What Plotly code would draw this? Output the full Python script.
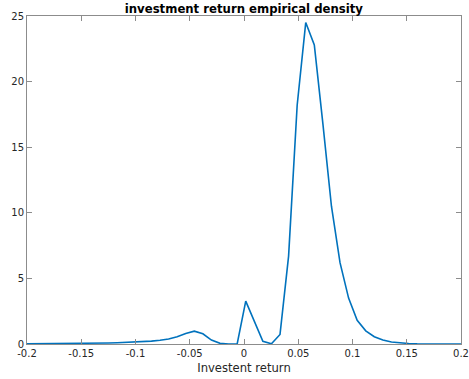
import plotly.graph_objects as go

x_ret = [-0.2038, -0.1959, -0.1880, -0.1801, -0.1722, -0.1643, -0.1564, -0.1485,
         -0.1406, -0.1327, -0.1248, -0.1169, -0.1090, -0.1011, -0.0932, -0.0853,
         -0.0774, -0.0695, -0.0616, -0.0537, -0.0458, -0.0379, -0.0300, -0.0221,
         -0.0142, -0.0063, 0.0016, 0.0095, 0.0174, 0.0253, 0.0332, 0.0411,
         0.0490, 0.0569, 0.0648, 0.0727, 0.0806, 0.0885, 0.0964, 0.1043,
         0.1122, 0.1201, 0.1280, 0.1359, 0.1438, 0.1517, 0.1596, 0.1675,
         0.1754, 0.1833, 0.1912, 0.1991, 0.2070]
density = [0.01, 0.012, 0.015, 0.02, 0.025, 0.03, 0.04, 0.05,
           0.06, 0.07, 0.08, 0.10, 0.12, 0.15, 0.18, 0.22,
           0.28, 0.38, 0.55, 0.80, 0.98, 0.78, 0.30, 0.05,
           0.0, 0.0, 3.27, 1.75, 0.20, 0.02, 0.73, 6.7,
           18.2, 24.5, 22.8, 16.8, 10.5, 6.2, 3.5, 1.8,
           1.0, 0.55, 0.3, 0.15, 0.08, 0.04, 0.02, 0.01,
           0.008, 0.006, 0.005, 0.004, 0.003]

x_ticks = [-0.2, -0.15, -0.1, -0.05, 0, 0.05, 0.1, 0.15, 0.2]
x_tick_labels = ["-0.2", "-0.15", "-0.1", "-0.05", "0", "0.05", "0.1", "0.15", "0.2"]
y_ticks = [0, 5, 10, 15, 20, 25]

fig = go.Figure()
fig.add_trace(go.Scatter(x=x_ret, y=density, mode="lines",
                         line=dict(color="#0072BD", width=1.6),
                         showlegend=False, cliponaxis=True))

axis_common = dict(showgrid=False, zeroline=False, showline=True, linecolor="#8c8c8c",
                   linewidth=1, mirror="ticks", ticks="inside", ticklen=5,
                   tickcolor="#8c8c8c", tickwidth=1, automargin=False,
                   tickfont=dict(family="DejaVu Sans", size=10, color="#262626"))

fig.update_xaxes(range=[-0.2, 0.2], tickvals=x_ticks, ticktext=x_tick_labels,
                 title=dict(text="Investent return", standoff=5,
                            font=dict(family="DejaVu Sans", size=11.6, color="#262626")),
                 **axis_common)
fig.update_yaxes(range=[0, 25], tickvals=y_ticks, **axis_common)

fig.update_layout(
    width=469, height=379,
    margin=dict(l=27, r=8, t=16, b=35),
    paper_bgcolor="white", plot_bgcolor="white",
    title=dict(text="<b>investment return empirical density</b>", x=0.52, xanchor="center",
               y=0.976, yanchor="middle",
               font=dict(family="DejaVu Sans", size=11.7, color="black")),
)

fig.write_html("out.html")
